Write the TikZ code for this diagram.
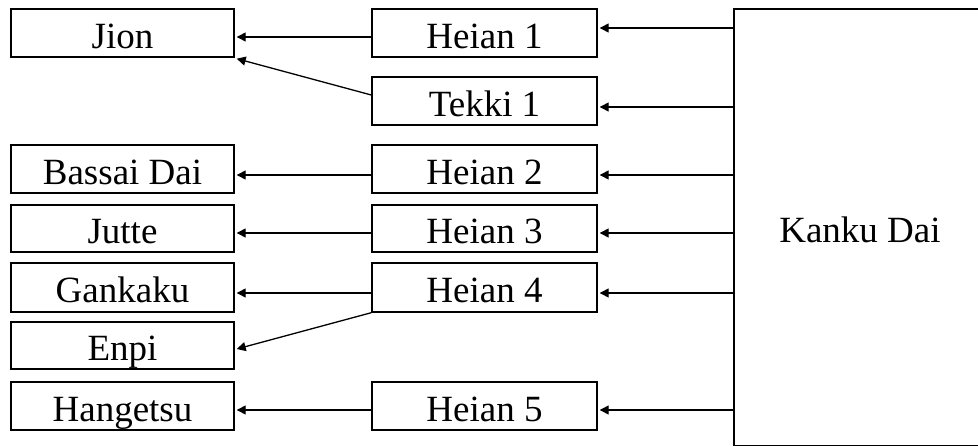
\documentclass[tikz,border=0pt]{standalone}
\usepackage{fontspec}
\setmainfont{Liberation Serif}
\usetikzlibrary{arrows.meta}
\begin{document}
\begin{tikzpicture}[x=1pt,y=-1pt,
  box/.style={draw, line width=1.4pt, inner sep=0pt, text height=30pt, text depth=0pt,
    font=\fontsize{37}{40}\selectfont},
  lbox/.style={box, minimum width=223pt, minimum height=48pt},
  mbox/.style={box, minimum width=225pt, minimum height=48pt},
  arr/.style={line width=1.3pt, -{Triangle[length=9pt,width=9pt]}}]
\useasboundingbox (0,0) rectangle (978,447);
% left column
\node[lbox] (jion) at (122.5,33) {Jion};
\node[lbox] (bassai) at (122.5,169) {Bassai Dai};
\node[lbox,minimum height=47pt] (jutte) at (122.5,228.5) {Jutte};
\node[lbox,minimum height=49pt] (gankaku) at (122.5,287.5) {Gankaku};
\node[lbox,minimum height=47pt] (enpi) at (122.5,345.5) {Enpi};
\node[lbox] (hangetsu) at (122.5,406) {Hangetsu};
% middle column
\node[mbox] (h1) at (484.5,33) {Heian 1};
\node[mbox] (tekki) at (484.5,101) {Tekki 1};
\node[mbox] (h2) at (484.5,169) {Heian 2};
\node[mbox,minimum height=47pt] (h3) at (484.5,228.5) {Heian 3};
\node[mbox,minimum height=49pt] (h4) at (484.5,287.5) {Heian 4};
\node[mbox] (h5) at (484.5,406) {Heian 5};
% right box
\node[box, minimum width=252pt, minimum height=436.5pt] (kd) at (860,227.25) {Kanku Dai};
% connectors from Kanku Dai
\draw[arr, transform canvas={yshift=5pt}] (h1.east -| kd.west) -- ([xshift=2pt]h1.east);
\draw[arr, transform canvas={yshift=-6pt}] (tekki.east -| kd.west) -- ([xshift=2pt]tekki.east);
\draw[arr, transform canvas={yshift=-6pt}] (h2.east -| kd.west) -- ([xshift=2pt]h2.east);
\draw[arr, transform canvas={yshift=-4.5pt}] (h3.east -| kd.west) -- ([xshift=2pt]h3.east);
\draw[arr, transform canvas={yshift=-5.5pt}] (h4.east -| kd.west) -- ([xshift=2pt]h4.east);
\draw[arr, transform canvas={yshift=-4pt}] (h5.east -| kd.west) -- ([xshift=2pt]h5.east);
% connectors to left column
\draw[arr, transform canvas={yshift=-4pt}] (h1.west) -- ([xshift=2pt]jion.east);
\draw[arr, transform canvas={yshift=-6pt}] (h2.west) -- ([xshift=2pt]bassai.east);
\draw[arr, transform canvas={yshift=-4.5pt}] (h3.west) -- ([xshift=2pt]jutte.east);
\draw[arr, transform canvas={yshift=-5.5pt}] (h4.west) -- ([xshift=2pt]gankaku.east);
\draw[arr, transform canvas={yshift=-4pt}] (h5.west) -- ([xshift=2pt]hangetsu.east);
\draw[arr] ([yshift=6pt]tekki.west) -- ([xshift=2pt,yshift=-1pt]jion.south east);
\draw[arr] (h4.south west) -- ([xshift=2pt,yshift=-3.5pt]enpi.east);
\end{tikzpicture}
\end{document}
